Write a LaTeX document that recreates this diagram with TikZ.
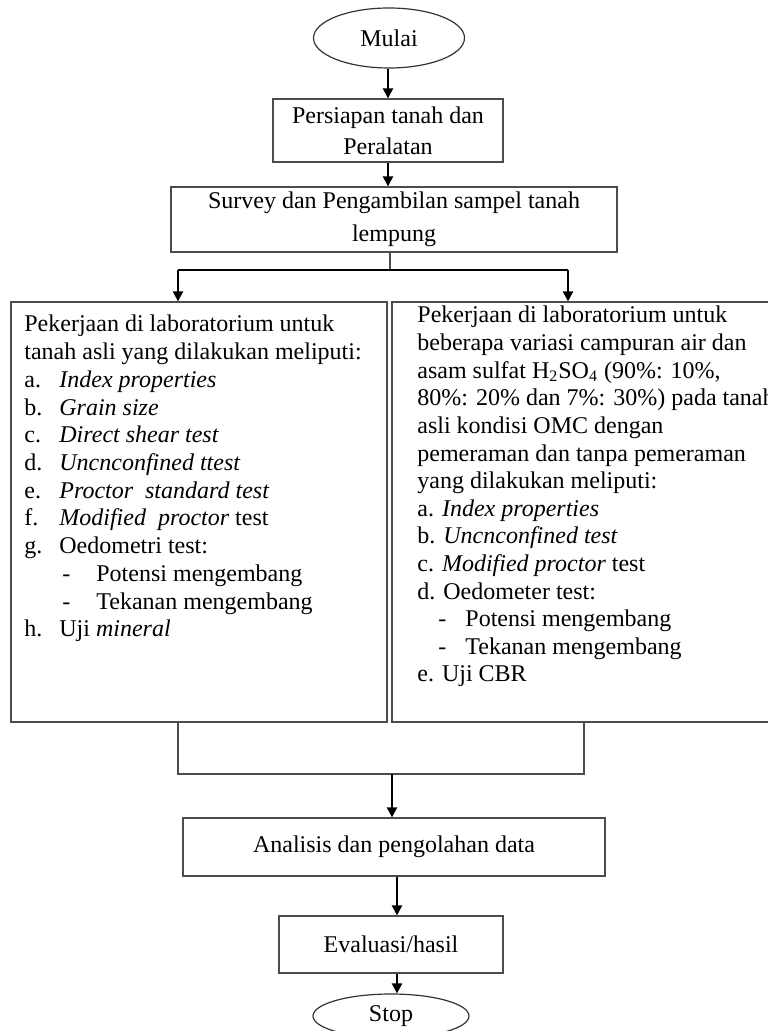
\documentclass[tikz,border=0pt]{standalone}
\usepackage{fontspec}
\setmainfont{Liberation Serif}
\usetikzlibrary{shapes.geometric,arrows.meta}
\begin{document}
\begin{tikzpicture}[x=0.5pt,y=-0.5pt,
  every node/.style={font=\fontsize{12}{14}\selectfont},
  box/.style={draw=black!70, line width=0.6pt, rectangle, inner sep=0pt, align=center},
  oval/.style={draw=black!80, line width=0.6pt, ellipse, inner sep=0pt},
  ln/.style={anchor=base west, inner sep=0pt},
  thinl/.style={draw=black!70, line width=0.6pt},
  thickl/.style={draw=black, line width=1.1pt},
  arr/.style={thickl, -{Triangle[length=5pt,width=5pt]}}]
\useasboundingbox (0,0) rectangle (767,1031);

% main flow nodes
\node[oval, minimum width=75.5pt, minimum height=30pt] (mulai) at (389,38) {Mulai};
\node[box, minimum width=115pt, minimum height=31.5pt, font=\fontsize{12}{15.5}\selectfont] (prep) at (388,130.5) {Persiapan tanah dan\\Peralatan};
\node[box, minimum width=223pt, minimum height=32.5pt, font=\fontsize{12}{16.5}\selectfont] (survey) at (394,219.5) {Survey dan Pengambilan sampel tanah\\lempung};
\node[box, minimum width=188pt, minimum height=210pt] (lbox) at (199,512) {};
\node[box, minimum width=199pt, minimum height=210pt] (rbox) at (591,512) {};
\node[box, minimum width=211pt, minimum height=29pt] (ana) at (394,847) {Analisis dan pengolahan data};
\node[box, minimum width=112pt, minimum height=28.5pt] (eval) at (391,944.5) {Evaluasi/hasil};
\node[oval, minimum width=78pt, minimum height=22pt] (stop) at (391,1016) {Stop};

% left box text
\node[ln] (lt1) at (24,332) {Pekerjaan di laboratorium untuk};
\node[ln] (lt2) at (24,359.7) {tanah asli yang dilakukan meliputi:};
\node[ln] (la3) at (24,387.4) {a.};
\node[ln] (lt3) at (59,387.4) {\textit{Index properties}};
\node[ln] (la4) at (24,415.1) {b.};
\node[ln] (lt4) at (59,415.1) {\textit{Grain size}};
\node[ln] (la5) at (24,442.8) {c.};
\node[ln] (lt5) at (59,442.8) {\textit{Direct shear test}};
\node[ln] (la6) at (24,470.5) {d.};
\node[ln] (lt6) at (59,470.5) {\textit{Uncnconfined ttest}};
\node[ln] (la7) at (24,498.2) {e.};
\node[ln] (lt7) at (59,498.2) {\textit{Proctor\ \ standard test}};
\node[ln] (la8) at (24,525.9) {f.};
\node[ln] (lt8) at (59,525.9) {\textit{Modified\ \ proctor} test};
\node[ln] (la9) at (24,553.6) {g.};
\node[ln] (lt9) at (59,553.6) {Oedometri test:};
\node[ln] (la10) at (62,581.3) {-};
\node[ln] (lt10) at (96,581.3) {Potensi mengembang};
\node[ln] (la11) at (62,609.0) {-};
\node[ln] (lt11) at (96,609.0) {Tekanan mengembang};
\node[ln] (la12) at (24,636.7) {h.};
\node[ln] (lt12) at (59,636.7) {Uji \textit{mineral}};

% right box text
\node[ln] (rt1) at (417,323) {Pekerjaan di laboratorium untuk};
\node[ln] (rt2) at (417,350.6) {beberapa variasi campuran air dan};
\node[ln] (rt3) at (417,378.2) {asam sulfat H\textsubscript{2}SO\textsubscript{4} (90\%: 10\%,};
\node[ln] (rt4) at (417,405.8) {80\%: 20\% dan 7\%: 30\%) pada tanah};
\node[ln] (rt5) at (417,433.4) {asli kondisi OMC dengan};
\node[ln] (rt6) at (417,461.0) {pemeraman dan tanpa pemeraman};
\node[ln] (rt7) at (417,488.6) {yang dilakukan meliputi:};
\node[ln] (rt8) at (417,516.2) {a. \textit{Index properties}};
\node[ln] (rt9) at (417,543.8) {b. \textit{Uncnconfined test}};
\node[ln] (rt10) at (417,571.4) {c. \textit{Modified proctor} test};
\node[ln] (rt11) at (417,599.0) {d. Oedometer test:};
\node[ln] (ra12) at (438,626.6) {-};
\node[ln] (rt12) at (465,626.6) {Potensi mengembang};
\node[ln] (ra13) at (438,654.2) {-};
\node[ln] (rt13) at (465,654.2) {Tekanan mengembang};
\node[ln] (rt14) at (417,681.8) {e. Uji CBR};

% junction coordinates
\coordinate (split) at (390,270);
\coordinate (la) at (178,270);
\coordinate (ra) at (568,270);
\coordinate (bl) at (178,774);
\coordinate (br) at (584,774);
\coordinate (bm) at (392,774);
\coordinate (cx) at (397,0);

% connectors
\draw[arr] (mulai.south -| prep.north) -- (prep.north);
\draw[arr] (prep.south) -- (prep.south |- survey.north);
\draw[thinl] (survey.south -| split) -- (split);
\draw[thickl] (la) -- (ra);
\draw[arr] (la) -- (la |- lbox.north);
\draw[arr] (ra) -- (ra |- rbox.north);
\draw[thinl] (lbox.south -| bl) -- (bl) -- (br) -- (rbox.south -| br);
\draw[arr] (bm) -- (bm |- ana.north);
\draw[arr] (ana.south -| cx) -- (eval.north -| cx);
\draw[arr] (eval.south -| cx) -- (stop.north -| cx);
\end{tikzpicture}
\end{document}
